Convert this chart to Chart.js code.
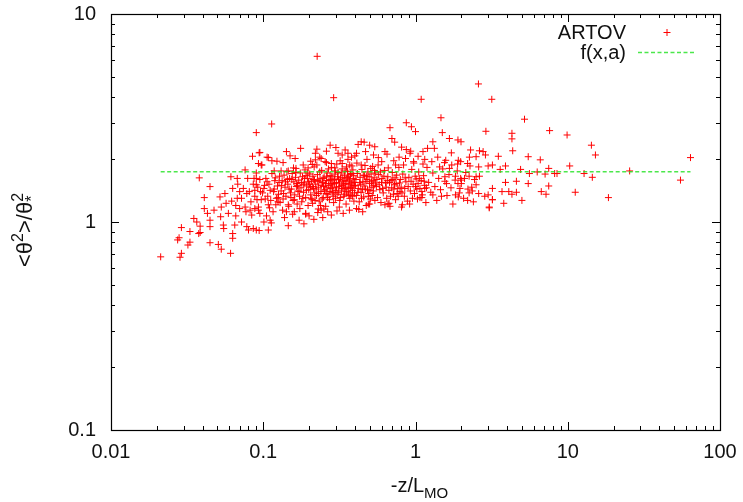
<!DOCTYPE html>
<html>
<head>
<meta charset="utf-8">
<script src="https://cdn.jsdelivr.net/npm/chart.js@4/dist/chart.umd.min.js"></script>
<style>
  html, body { margin: 0; padding: 0; background: #fff; }
  #c { display: block; }
</style>
</head>
<body>
<canvas id="c" width="743" height="502"></canvas>
<script>
// Decade tick labels for the two logarithmic axes
const xTickLabels = ['0.01', '0.1', '1', '10', '100'];
const yTickLabels = ['0.1', '1', '10'];
const xRange = [0.01, 100];
const yRange = [0.1, 10];

// Fitted constant f(x,a) = a and the stability range it was fitted over
const fitLevel = 1.745;
const fitRange = [0.0212, 64];

// ARTOV measurements: [-z/L_MO, <theta^2>/theta*^2]
const artovSparse = [
  [0.0212,0.68],[0.0284,0.677],[0.029,0.707],[0.0274,0.82],[0.028,0.84],[0.029,0.94],[0.032,0.775],[0.033,0.80],
  [0.033,0.90],[0.035,1.04],[0.0366,1.0],[0.0377,0.88],[0.0385,0.89],[0.0385,0.955],[0.038,1.63],[0.041,1.31],
  [0.041,1.16],[0.0447,1.48],[0.0447,0.95],[0.0447,0.795],[0.043,1.10],[0.0447,1.02],[0.0475,1.14],[0.0507,0.78],
  [0.053,0.74],[0.052,1.32],[0.0525,1.06],[0.053,1.18],[0.0547,0.967],[0.055,0.93],[0.056,1.37],[0.057,1.23],
  [0.0613,1.65],[0.061,0.707],[0.063,1.45],[0.063,0.88],[0.063,0.835],[0.065,0.967],[0.066,1.07],[0.0675,1.62],
  [0.068,1.52],[0.0675,1.30],[0.070,1.40],[0.070,1.16],[0.072,1.0],[0.078,0.95],[0.080,0.915],[0.076,1.78],
  [0.079,1.62],[0.078,1.37],[0.081,1.40],[0.076,1.18],[0.082,1.14],[0.085,2.07],[0.090,2.69],[0.087,1.62],
  [0.090,1.51],[0.088,1.42],[0.091,1.28],[0.088,1.16],[0.086,0.93],[0.093,1.14],[0.094,0.91],[0.094,2.15],
  [0.093,1.91],[0.072,1.30],[0.074,1.45],[0.083,1.25],[0.086,1.52],[0.088,1.33],[0.092,1.47],[0.095,1.60],
  [0.097,1.28],[0.084,1.08],[0.077,1.12],[0.066,1.20],[0.059,1.10],[0.062,1.26],[0.090,1.72],[0.096,1.40],
  [0.1136,2.96],[0.095,2.16],[0.106,2.05],[0.114,1.97],[0.123,1.96],[0.142,2.18],[0.162,2.02],[0.176,2.26],
  [0.225,2.24],[0.22,2.14],[0.097,1.88],[0.226,6.26],[0.29,3.96],[0.275,2.34],[0.30,2.28],[0.345,2.22],
  [0.38,2.05],[0.42,2.36],[0.44,2.43],[0.46,2.42],[0.47,2.18],[0.41,2.14],[0.36,2.14],[0.33,2.10],
  [0.31,2.14],[0.26,2.19],[0.24,2.02],[0.255,1.95],[0.22,1.99],[0.21,1.89],[0.197,1.82],[0.164,1.81],
  [0.108,2.04],[0.098,1.88],[0.118,1.76],[0.131,1.76],[0.146,1.76],[0.183,1.88],[0.28,1.91],[0.295,1.82],
  [0.33,1.91],[0.37,1.88],[0.44,1.88],
  [0.090,0.915],[0.108,0.915],[0.101,1.0],[0.111,1.02],[0.095,1.10],[0.142,1.12],[0.16,1.12],[0.19,1.10],
  [0.23,1.155],[0.25,1.155],[0.146,1.21],[0.125,1.25],[0.108,1.21],[0.093,1.18],[0.09,1.62],
  [0.19,1.09],[0.24,1.14],[0.49,1.22],[0.66,1.22],[0.81,1.18],[1.07,1.31],[2.4,1.25],[3.05,1.17],[3.2,1.28],
  [2.59,4.61],[1.09,3.89],[0.87,3.0],[0.94,2.87],[1.0,2.72],[1.47,3.17],[1.5,2.69],[1.67,2.52],
  [1.9,2.48],[1.99,2.43],[0.68,2.84],[0.70,2.52],[0.73,2.42],[0.50,2.34],[0.54,2.30],[0.63,2.18],
  [0.81,2.29],[0.87,2.23],[0.93,2.19],[1.12,2.18],[1.2,2.26],[1.30,2.43],[1.33,2.26],[1.15,2.0],
  [1.04,2.07],[0.97,1.95],[0.78,2.05],[0.60,1.95],[0.74,1.88],[1.40,2.05],[1.55,1.93],[1.72,2.15],
  [1.89,1.90],[1.98,1.95],[2.2,1.91],[2.26,2.05],[2.3,2.22],[1.67,1.81],[1.83,1.66],[1.98,1.62],
  [2.0,1.59],[2.25,1.66],[1.56,1.65],[1.30,1.35],[1.48,1.33],[1.10,1.31],[0.82,1.21],[0.67,1.23],
  [0.50,1.22],[1.83,1.35],[1.91,1.32],[2.2,1.27],[2.25,1.38],[2.34,1.47],[1.96,1.45],[1.9,1.53],
  [1.6,1.53],[1.15,1.45],[1.0,1.48],[0.85,1.45],
  [3.17,3.89],[5.2,3.12],[2.9,2.73],[4.3,2.67],[4.3,2.51],[7.6,2.75],[9.9,2.62],[14.3,2.34],
  [15.2,2.10],[4.35,2.20],[2.63,2.20],[2.78,2.18],[2.88,2.10],[3.5,2.07],[2.5,2.06],[5.5,2.06],
  [6.6,1.99],[10.3,1.86],[7.5,1.81],[4.9,1.79],[3.9,1.86],[3.2,1.88],[3.0,1.86],[3.6,1.79],
  [2.6,1.84],[6.3,1.74],[5.6,1.71],[7.1,1.70],[8.2,1.71],[8.5,1.71],[12.8,1.71],[2.5,1.65],
  [2.63,1.66],[3.9,1.55],[4.6,1.57],[5.5,1.53],[7.5,1.49],[3.2,1.45],[2.5,1.51],[3.7,1.40],
  [4.1,1.40],[4.3,1.36],[4.6,1.39],[6.7,1.40],[7.2,1.36],[11.2,1.39],[3.0,1.35],[2.85,1.33],
  [2.6,1.37],[3.2,1.28],[3.8,1.23],[5.0,1.27],[3.05,1.18],
  [64,2.04],[55,1.59],[25.5,1.76],[18.5,1.31],[14.5,1.64]
];

// Dense core of the ARTOV cloud, 0.1 < -z/L_MO < 2.5
const artovCore = [
  [0.101,1.45],[0.104,1.62],[0.107,1.33],[0.109,1.52],[0.112,1.27],[0.114,1.71],[0.117,1.40],[0.119,1.58],
  [0.121,1.21],[0.124,1.49],[0.126,1.36],[0.128,1.66],[0.103,1.29],[0.110,1.17],[0.116,1.12],[0.122,1.30],
  [0.127,1.55],[0.099,1.38],[0.106,1.56],[0.118,1.44],[0.129,1.24],
  [0.131,1.41],[0.133,1.58],[0.135,1.29],[0.137,1.68],[0.139,1.47],[0.141,1.33],[0.143,1.75],[0.145,1.52],
  [0.147,1.19],[0.149,1.62],[0.151,1.38],[0.153,1.44],[0.155,1.71],[0.157,1.27],[0.159,1.56],[0.161,1.35],
  [0.163,1.64],[0.165,1.48],[0.167,1.22],[0.169,1.41],[0.134,1.14],[0.144,1.60],[0.152,1.31],[0.158,1.82],
  [0.166,1.53],
  [0.171,1.59],[0.173,1.33],[0.175,1.72],[0.177,1.46],[0.179,1.25],[0.181,1.65],[0.184,1.39],[0.186,1.54],
  [0.188,1.78],[0.190,1.31],[0.193,1.49],[0.195,1.62],[0.197,1.20],[0.199,1.43],[0.202,1.70],[0.205,1.35],
  [0.207,1.57],[0.209,1.28],[0.212,1.66],[0.214,1.45],[0.216,1.84],[0.218,1.38],[0.174,1.16],[0.183,1.51],
  [0.191,1.67],[0.198,1.56],[0.204,1.47],[0.211,1.23],[0.217,1.59],
  [0.221,1.52],[0.224,1.34],[0.227,1.69],[0.230,1.47],[0.233,1.26],[0.236,1.61],[0.239,1.40],[0.242,1.77],
  [0.245,1.55],[0.248,1.31],[0.251,1.64],[0.254,1.43],[0.257,1.19],[0.260,1.58],[0.263,1.72],[0.266,1.36],
  [0.269,1.50],[0.272,1.28],[0.275,1.67],[0.278,1.45],[0.281,1.83],[0.284,1.39],[0.287,1.59],[0.290,1.24],
  [0.293,1.53],[0.296,1.70],[0.299,1.42],[0.225,1.88],[0.238,1.20],[0.249,1.48],[0.259,1.37],[0.268,1.80],
  [0.277,1.60],[0.288,1.33],[0.297,1.76],[0.232,1.57],[0.262,1.46],[0.283,1.51],
  [0.302,1.55],[0.306,1.36],[0.310,1.73],[0.314,1.48],[0.318,1.27],[0.322,1.63],[0.326,1.41],[0.330,1.80],
  [0.334,1.57],[0.338,1.33],[0.342,1.68],[0.346,1.46],[0.350,1.22],[0.354,1.61],[0.358,1.75],[0.362,1.38],
  [0.366,1.52],[0.370,1.30],[0.374,1.69],[0.378,1.47],[0.382,1.86],[0.386,1.42],[0.390,1.62],[0.394,1.26],
  [0.398,1.55],[0.304,1.90],[0.316,1.18],[0.328,1.50],[0.340,1.44],[0.352,1.84],[0.364,1.66],[0.376,1.35],
  [0.388,1.78],[0.396,1.49],[0.312,1.60],[0.344,1.58],[0.372,1.56],
  [0.403,1.50],[0.409,1.34],[0.415,1.71],[0.421,1.45],[0.427,1.25],[0.433,1.64],[0.439,1.39],[0.445,1.79],
  [0.451,1.56],[0.457,1.32],[0.463,1.67],[0.469,1.44],[0.475,1.20],[0.481,1.60],[0.487,1.74],[0.493,1.37],
  [0.499,1.53],[0.505,1.29],[0.511,1.70],[0.517,1.47],[0.523,1.85],[0.529,1.41],[0.535,1.63],[0.541,1.27],
  [0.547,1.54],[0.412,1.92],[0.424,1.15],[0.436,1.52],[0.448,1.43],[0.466,1.87],[0.478,1.66],[0.490,1.33],
  [0.508,1.81],[0.526,1.58],[0.544,1.72],
  [0.553,1.48],[0.563,1.31],[0.573,1.69],[0.583,1.43],[0.593,1.24],[0.603,1.62],[0.614,1.38],[0.625,1.77],
  [0.636,1.54],[0.647,1.30],[0.658,1.65],[0.669,1.42],[0.680,1.19],[0.692,1.58],[0.704,1.73],[0.716,1.36],
  [0.728,1.51],[0.740,1.28],[0.752,1.68],[0.765,1.45],[0.778,1.83],[0.791,1.40],[0.568,1.88],[0.598,1.55],
  [0.630,1.21],[0.662,1.82],[0.698,1.46],[0.734,1.63],[0.770,1.33],[0.795,1.60],
  [0.805,1.47],[0.825,1.70],[0.845,1.33],[0.865,1.56],[0.885,1.26],[0.905,1.64],[0.925,1.41],[0.945,1.79],
  [0.965,1.52],[0.985,1.37],[1.01,1.61],[1.03,1.29],[1.05,1.74],[1.07,1.45],[1.09,1.58],[1.11,1.35],
  [1.13,1.67],[1.15,1.50],[1.17,1.24],[1.19,1.83],[0.835,1.88],[0.915,1.22],[0.975,1.92],[1.04,1.53],[1.12,1.90],
  [1.22,1.55],[1.26,1.39],[1.30,1.72],[1.34,1.48],[1.38,1.27],[1.42,1.62],[1.46,1.43],[1.51,1.80],
  [1.56,1.57],[1.61,1.34],[1.66,1.69],[1.71,1.46],[1.76,1.22],[1.82,1.59],[1.88,1.76],[1.94,1.38],
  [2.0,1.53],[2.07,1.30],[2.14,1.73],[2.21,1.44],[2.28,1.86],[2.36,1.41],[2.44,1.60],[1.28,1.95],
  [1.44,1.84],[1.58,1.98],[1.73,1.88],[1.91,1.98],[2.10,1.62],
  [0.105,1.07],[0.113,0.99],[0.138,1.05],[0.146,0.96],[0.156,1.09],[0.172,1.02],[0.185,0.98],[0.200,1.07],
  [0.215,1.03],[0.228,1.11],[0.246,1.05],[0.265,1.12],[0.280,1.08],[0.305,1.13],[0.335,1.10],[0.368,1.14],
  [0.41,1.16],[0.45,1.12],
  [0.135,1.93],[0.150,2.08],[0.205,1.96],[0.235,2.05],[0.26,1.93],[0.32,1.97],[0.36,2.0],[0.40,2.08],
  [0.48,2.0],[0.53,2.1],[0.57,2.04],[0.65,2.12],[0.72,1.97],[0.86,2.02],[0.92,2.14],
  [0.102,1.50],[0.111,1.42],[0.120,1.63],[0.125,1.31],[0.132,1.50],[0.136,1.37],[0.140,1.56],[0.148,1.44],
  [0.154,1.60],[0.160,1.28],[0.164,1.73],[0.168,1.50],[0.172,1.40],[0.178,1.55],[0.182,1.30],[0.187,1.62],
  [0.192,1.42],[0.196,1.72],[0.201,1.52],[0.206,1.30],[0.210,1.48],[0.213,1.60],[0.219,1.27],[0.223,1.44],
  [0.228,1.58],[0.231,1.37],[0.235,1.74],[0.240,1.50],[0.244,1.29],[0.247,1.62],[0.252,1.41],[0.256,1.53],
  [0.261,1.66],[0.264,1.31],[0.270,1.58],[0.274,1.40],[0.279,1.53],[0.282,1.66],[0.286,1.47],[0.291,1.38],
  [0.294,1.61],[0.298,1.30],[0.303,1.46],[0.308,1.65],[0.313,1.39],[0.317,1.54],[0.321,1.31],[0.325,1.72],
  [0.329,1.45],[0.333,1.63],[0.337,1.52],[0.341,1.36],[0.345,1.76],[0.349,1.53],[0.353,1.40],[0.357,1.64],
  [0.361,1.47],[0.365,1.34],[0.369,1.59],[0.373,1.45],[0.377,1.71],[0.381,1.54],[0.385,1.33],[0.389,1.50],
  [0.393,1.67],[0.397,1.38],[0.406,1.60],[0.418,1.39],[0.430,1.55],[0.442,1.30],[0.454,1.68],[0.460,1.49],
  [0.472,1.57],[0.484,1.43],[0.496,1.65],[0.502,1.42],[0.514,1.56],[0.520,1.34],[0.532,1.50],[0.538,1.77],
  [0.558,1.60],[0.578,1.51],[0.588,1.74],[0.608,1.45],[0.620,1.66],[0.642,1.47],[0.652,1.58],[0.675,1.55],
  [0.686,1.33],[0.710,1.60],[0.722,1.44],[0.746,1.53],[0.758,1.37],[0.784,1.54],[0.815,1.38],[0.855,1.63],
  [0.895,1.48],[0.935,1.57],[0.955,1.30],[0.995,1.66],[1.02,1.44],[1.06,1.62],[1.10,1.40],[1.14,1.57],[1.18,1.46]
];

const FONT = '"Liberation Sans", Arial, Helvetica, sans-serif';
const TEXT = '#111';
const RED = '#ff0000';
const GREEN = 'rgba(30,225,30,0.8)';

const isDecade = v => Math.abs(Math.log10(v) - Math.round(Math.log10(v))) < 1e-9;

// 1..9 x 10^n tick values across a log range
function logTicks(lo, hi) {
  const out = [];
  for (let e = Math.round(Math.log10(lo)); e <= Math.round(Math.log10(hi)); e++) {
    for (let m = 1; m <= 9; m++) {
      const v = m * Math.pow(10, e);
      if (v >= lo * 0.999 && v <= hi * 1.001) out.push(+v.toPrecision(6));
    }
  }
  return out;
}

// Inward tick marks on all four sides, the frame, key and axis titles
const gnuplotFrame = {
  id: 'gnuplotFrame',
  afterDraw(chart) {
    const { ctx, chartArea: a, scales: { x, y } } = chart;
    ctx.save();
    ctx.strokeStyle = '#000';
    ctx.lineWidth = 1;
    const seg = (x1, y1, x2, y2) => { ctx.beginPath(); ctx.moveTo(x1, y1); ctx.lineTo(x2, y2); ctx.stroke(); };

    x.ticks.forEach(t => {
      const px = Math.round(x.getPixelForValue(t.value)) + 0.5;
      const len = isDecade(t.value) ? 8 : 4;
      seg(px, a.bottom, px, a.bottom - len);
      seg(px, a.top, px, a.top + len);
    });
    y.ticks.forEach(t => {
      const py = Math.round(y.getPixelForValue(t.value)) + 0.5;
      const len = isDecade(t.value) ? 8 : 4;
      seg(a.left, py, a.left + len, py);
      seg(a.right, py, a.right - len, py);
    });
    ctx.lineWidth = 1.2;
    ctx.strokeRect(Math.round(a.left) + 0.5, Math.round(a.top) + 0.5,
                   Math.round(a.right - a.left), Math.round(a.bottom - a.top));

    // key
    const ds = chart.data.datasets;
    ctx.fillStyle = TEXT;
    ctx.font = '20px ' + FONT;
    ctx.textAlign = 'right';
    ctx.textBaseline = 'middle';
    ctx.fillText(ds[1].label, 626, 33);
    ctx.fillText(ds[0].label, 626, 53);
    ctx.strokeStyle = RED;
    ctx.lineWidth = 1;
    seg(663.5, 32.5, 670.5, 32.5);
    seg(667, 29, 667, 36);
    ctx.strokeStyle = GREEN;
    ctx.lineWidth = 1.6;
    ctx.setLineDash([4, 2.5]);
    seg(638, 52.5, 695, 52.5);
    ctx.setLineDash([]);

    // x title: -z/L_MO
    ctx.textAlign = 'left';
    ctx.textBaseline = 'alphabetic';
    ctx.fillStyle = TEXT;
    const mainX = '-z/L';
    ctx.font = '15px ' + FONT;
    const wSub = ctx.measureText('MO').width;
    ctx.font = '20px ' + FONT;
    const wMain = ctx.measureText(mainX).width;
    const sx = (a.left + a.right) / 2 + 4 - (wMain + wSub) / 2;
    ctx.fillText(mainX, sx, 492);
    ctx.font = '15px ' + FONT;
    ctx.fillText('MO', sx + wMain, 498);

    // y title: <θ^2>/θ*^2 written bottom-to-top
    ctx.translate(32, (a.top + a.bottom) / 2 + 8);
    ctx.rotate(-Math.PI / 2);
    const parts = [
      { t: '<θ', f: 22, dy: 0 },
      { t: '2', f: 16, dy: -9 },
      { t: '>/θ', f: 22, dy: 0 },
      { t: '*', f: 16, dy: 5, stack: true },
      { t: '2', f: 16, dy: -9 }
    ];
    let total = 0;
    parts.forEach(p => {
      ctx.font = p.f + 'px ' + FONT;
      p.w = ctx.measureText(p.t).width;
      if (!p.stack) total += p.w;
    });
    let cx = -total / 2;
    parts.forEach(p => {
      ctx.font = p.f + 'px ' + FONT;
      ctx.fillText(p.t, cx, p.dy);
      if (!p.stack) cx += p.w;
    });
    ctx.restore();
  }
};

const toXY = arr => arr.map(([x, y]) => ({ x, y }));

new Chart(document.getElementById('c'), {
  data: {
    datasets: [
      {
        type: 'line',
        label: 'f(x,a)',
        data: [{ x: fitRange[0], y: fitLevel }, { x: fitRange[1], y: fitLevel }],
        borderColor: GREEN,
        borderWidth: 1.6,
        borderDash: [4, 2.5],
        pointRadius: 0,
        fill: false,
        order: 0
      },
      {
        type: 'scatter',
        label: 'ARTOV',
        data: toXY(artovSparse.concat(artovCore)),
        pointStyle: 'cross',
        pointRadius: 3.5,
        borderColor: RED,
        backgroundColor: RED,
        borderWidth: 1,
        order: 1
      }
    ]
  },
  options: {
    responsive: false,
    devicePixelRatio: 1,
    animation: false,
    events: [],
    layout: { padding: { left: 0, right: 23, top: 14, bottom: 0 } },
    plugins: { legend: { display: false }, tooltip: { enabled: false } },
    scales: {
      x: {
        type: 'logarithmic',
        position: 'bottom',
        min: xRange[0], max: xRange[1],
        grid: { display: false },
        border: { display: false },
        afterBuildTicks: s => { s.ticks = logTicks(xRange[0], xRange[1]).map(v => ({ value: v })); },
        afterFit: s => { s.height = 72; s.paddingLeft = 0; s.paddingRight = 0; },
        ticks: {
          autoSkip: false, maxRotation: 0, padding: 2,
          color: TEXT, font: { family: FONT, size: 20 },
          callback: v => isDecade(v) ? xTickLabels[Math.round(Math.log10(v)) + 2] : ''
        }
      },
      y: {
        type: 'logarithmic',
        position: 'left',
        min: yRange[0], max: yRange[1],
        grid: { display: false },
        border: { display: false },
        afterBuildTicks: s => { s.ticks = logTicks(yRange[0], yRange[1]).map(v => ({ value: v })); },
        afterFit: s => { s.width = 111; s.paddingTop = 0; s.paddingBottom = 0; },
        ticks: {
          autoSkip: false, padding: 7,
          color: TEXT, font: { family: FONT, size: 20 },
          callback: v => isDecade(v) ? yTickLabels[Math.round(Math.log10(v)) + 1] : ''
        }
      }
    }
  },
  plugins: [gnuplotFrame]
});
</script>
</body>
</html>
